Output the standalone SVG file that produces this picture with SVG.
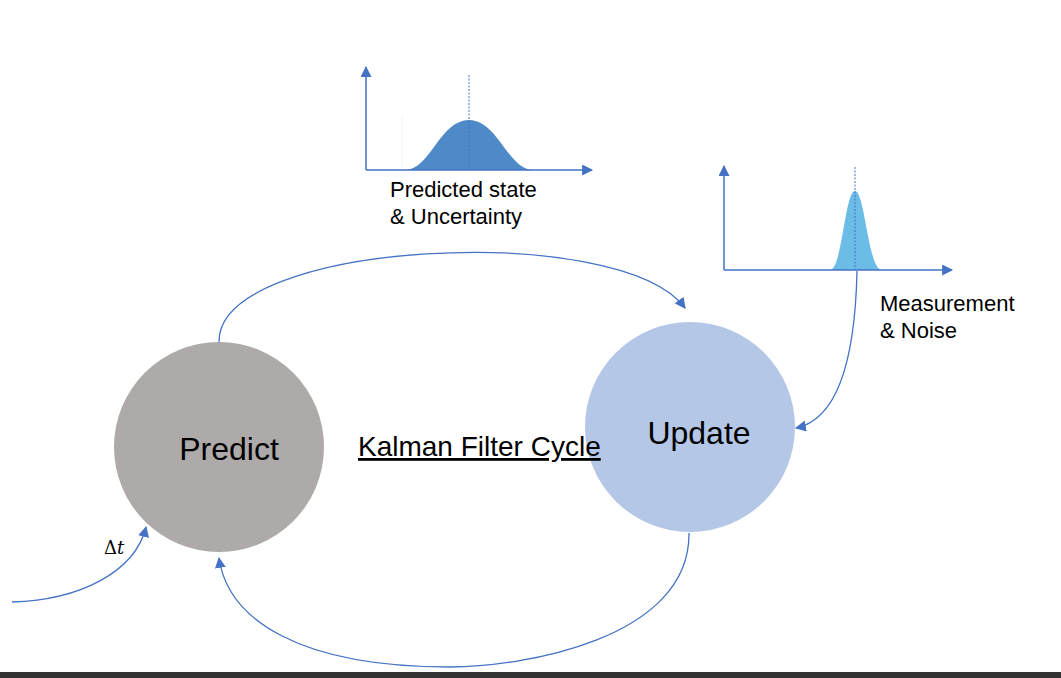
<svg xmlns="http://www.w3.org/2000/svg" width="1061" height="678" viewBox="0 0 1061 678">
<style>
.ax{stroke:#4472C4;stroke-width:1.5;fill:none}
.con{stroke:#4472C4;stroke-width:1.3;fill:none}
.lbl{font-family:"Liberation Sans",Arial,sans-serif;font-size:22px;fill:#000}
.big{font-family:"Liberation Sans",Arial,sans-serif;font-size:32px;fill:#000}
.dash{stroke:#4472C4;stroke-width:1;stroke-dasharray:2,1.5}
</style>
<defs>
<marker id="ah" viewBox="0 0 10 10" refX="9" refY="5" markerWidth="11" markerHeight="11" markerUnits="userSpaceOnUse" orient="auto">
<path d="M0,0 L10,5 L0,10 Z" fill="#4472C4"/>
</marker>
<marker id="axh" viewBox="0 0 10 10" refX="9" refY="5" markerWidth="13" markerHeight="11" markerUnits="userSpaceOnUse" orient="auto">
<path d="M0,0 L10,5 L0,10 Z" fill="#4472C4"/>
</marker>
</defs>
<rect width="1061" height="678" fill="#fff"/>

<g id="chart-predicted">
<line x1="402" y1="117" x2="402" y2="170" stroke="#eeeeee" stroke-width="1"/>
<path d="M405,170 C430,170 440,120 469,120 C498,120 508,170 533,170 Z" fill="#4E8AC8"/>
<line class="dash" x1="469" y1="75" x2="469" y2="170"/>
<line class="ax" x1="366" y1="170" x2="366" y2="67" marker-end="url(#axh)"/>
<line class="ax" x1="366" y1="170" x2="592" y2="170" marker-end="url(#axh)"/>
<text class="lbl" x="390" y="197">Predicted state</text>
<text class="lbl" x="390" y="224">&amp; Uncertainty</text>
</g>

<g id="chart-measurement">
<path d="M830,270 C842,270 845,191 855,191 C865,191 868,270 882,270 Z" fill="#6BBDE8"/>
<line class="dash" x1="855" y1="167" x2="855" y2="270"/>
<line class="ax" x1="724" y1="270" x2="724" y2="166" marker-end="url(#axh)"/>
<line class="ax" x1="724" y1="270" x2="952" y2="270" marker-end="url(#axh)"/>
<text class="lbl" x="880" y="311">Measurement</text>
<text class="lbl" x="880" y="338">&amp; Noise</text>
</g>

<g id="connectors">
<path class="con" d="M219,343 C215,240 620,220 685,308" marker-end="url(#ah)"/>
<path class="con" d="M857,271 C855,365 835,420 796,428" marker-end="url(#ah)"/>
<path class="con" d="M689,533 C690,640 520,667 450,667 C300,667 228,620 219,558" marker-end="url(#ah)"/>
<path class="con" d="M12,602 C80,600 135,572 146,527" marker-end="url(#ah)"/>
</g>

<g id="predict">
<circle cx="219" cy="447" r="105" fill="#ADAAA9"/>
<text class="big" x="229" y="460" text-anchor="middle">Predict</text>
</g>

<g id="update">
<circle cx="690" cy="427" r="105" fill="#B4C7E7"/>
<text class="big" x="699" y="444" text-anchor="middle">Update</text>
</g>

<g id="title">
<text x="358" y="456" font-family="'Liberation Sans',Arial,sans-serif" font-size="28" text-decoration="underline" fill="#000">Kalman Filter Cycle</text>
</g>

<g id="dt">
<text x="104" y="554" font-family="'DejaVu Serif','Liberation Serif',serif" font-size="18" fill="#000">Δ<tspan font-style="italic">t</tspan></text>
</g>

<rect x="0" y="672" width="1061" height="6" fill="#333333"/>
</svg>
